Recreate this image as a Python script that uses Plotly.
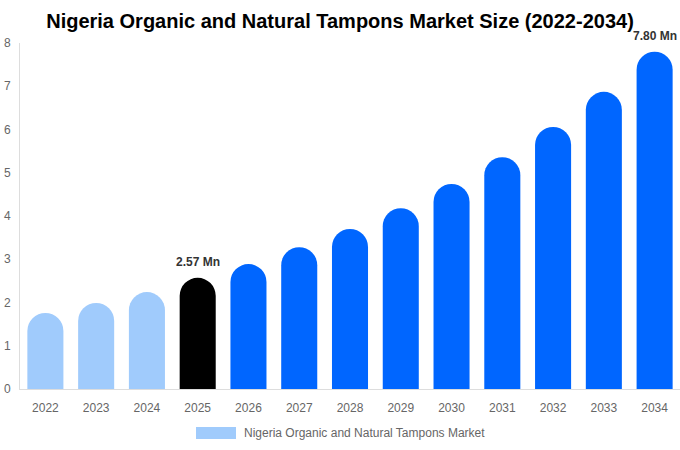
import plotly.graph_objects as go

years = ["2022", "2023", "2024", "2025", "2026", "2027", "2028", "2029", "2030", "2031", "2032", "2033", "2034"]
values = [1.76, 1.99, 2.24, 2.57, 2.89, 3.28, 3.70, 4.18, 4.74, 5.36, 6.06, 6.87, 7.80]
labels = ["", "", "", "2.57 Mn", "", "", "", "", "", "", "", "", "7.80 Mn"]
colors = ["#A0CBFC"] * 3 + ["#000000"] + ["#0066FF"] * 9
series_name = "Nigeria Organic and Natural Tampons Market"

fig = go.Figure()
fig.add_trace(go.Bar(
    x=years, y=values, name=series_name,
    marker=dict(color=colors, cornerradius="50%", line=dict(width=0)),
    showlegend=False, hoverinfo="skip",
))

for i, (v, lab) in enumerate(zip(values, labels)):
    if lab:
        fig.add_annotation(x=i, y=v, text=f"<b>{lab}</b>", showarrow=False,
                           xanchor="center", yanchor="bottom", yshift=7,
                           font=dict(family="Liberation Sans, Arial", size=12, color="#333333"))

fig.update_layout(
    width=680, height=450,
    margin=dict(l=20, r=0, t=43, b=61),
    paper_bgcolor="white", plot_bgcolor="white",
    bargap=0.29,
    font=dict(family="Liberation Sans, Arial", size=12, color="#666666"),
    title=dict(text="<b>Nigeria Organic and Natural Tampons Market Size (2022-2034)</b>",
               x=0.5, xanchor="center", y=0.953, yanchor="middle",
               font=dict(size=20, color="#000000")),
    xaxis=dict(type="category", range=[-0.5, len(years) - 0.5], showgrid=False, showline=True,
               linecolor="#dddddd", linewidth=1, ticklabelstandoff=8,
               ticks="", automargin=False, tickfont=dict(size=12, color="#666666")),
    yaxis=dict(range=[0, 8], dtick=1, showgrid=False, showline=True, linecolor="#dddddd",
               linewidth=1, ticks="", zeroline=False, automargin=False,
               tickfont=dict(size=12, color="#666666"), ticklabelstandoff=6),
)

# legend drawn manually
fig.add_shape(type="rect", xref="paper", yref="paper",
              x0=(196 - 20) / 660, x1=(236 - 20) / 660,
              y0=-(439 - 389) / 346, y1=-(427 - 389) / 346,
              fillcolor="#A0CBFC", line=dict(width=0))
fig.add_annotation(text=series_name, xref="paper", yref="paper",
                   x=(242 - 20) / 660, y=-(433 - 389) / 346, xanchor="left", yanchor="middle",
                   showarrow=False, font=dict(size=12, color="#666666"))

fig.write_html("out.html", config={"displayModeBar": False},
               post_script="document.body.style.margin='0';")
